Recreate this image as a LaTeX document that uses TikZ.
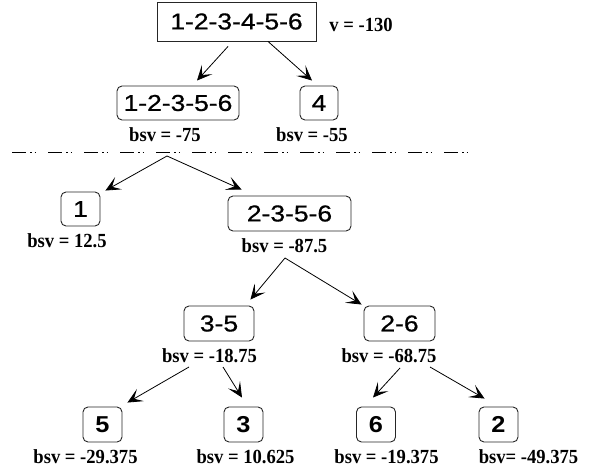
\documentclass[tikz,border=0pt]{standalone}
\usepackage{fontspec}
\usetikzlibrary{arrows.meta,calc}
\newfontfamily\boxfont[FakeStretch=1.15,FakeBold=0.7]{Liberation Sans}
\newfontfamily\leaffont[FakeStretch=1.1]{Liberation Sans Bold}
\newfontfamily\lblfont[FakeStretch=0.93]{Liberation Serif Bold}

\begin{document}
\begin{tikzpicture}[x=1pt,y=-1pt,
  box/.style={draw=black!85, line width=0.9pt, inner sep=0pt,
    font=\boxfont\fontsize{23}{23}\selectfont},
  rbox/.style={box, rounded corners=5pt},
  leaf/.style={rbox, minimum width=39pt, minimum height=35pt,
    font=\leaffont\fontsize{23}{23}\selectfont},
  lbl/.style={anchor=base, inner sep=0pt,
    font=\lblfont\fontsize{20}{20}\selectfont},
  arr/.style={-{Stealth[length=15pt,width=14pt,inset=7.5pt]}, line width=0.8pt},
  cut/.style={line width=0.7pt,
    dash pattern=on 14pt off 4pt on 1.5pt off 3pt on 1.5pt off 12pt}]
\useasboundingbox (0,0) rectangle (596,473);

% upper level: full set and its first split
\node[box, minimum width=159pt, minimum height=39pt] (root) at (236.5,21.5) {1-2-3-4-5-6};
\node[lbl] (v) at (361,32) {v = -130};
\node[rbox, minimum width=122pt, minimum height=34pt] (A) at (178,103) {1-2-3-5-6};
\node[rbox, minimum width=38pt, minimum height=34pt] (B) at (319,103) {4};
\node[lbl] (lA) at (165,142) {bsv = -75};
\node[lbl] (lB) at (312,142) {bsv = -55};

% cut line
\coordinate (cutL) at (12,152);
\coordinate (cutR) at (477,152);
\coordinate (split) at (167,156);
\draw[cut] (cutL) -- (cutR);

% second level
\node[rbox, minimum width=39pt, minimum height=34pt] (n1) at (80.5,209) {1};
\node[lbl] (l1) at (67,247) {bsv = 12.5};
\node[rbox, minimum width=123pt, minimum height=35pt] (C) at (289.5,213.5) {2-3-5-6};
\node[lbl] (lC) at (284.5,252) {bsv = -87.5};

% third level
\node[rbox, minimum width=70pt, minimum height=35pt] (D) at (219,323.5) {3-5};
\node[lbl] (lD) at (209.5,362) {bsv = -18.75};
\node[rbox, minimum width=71pt, minimum height=35pt] (E) at (399.5,323.5) {2-6};
\node[lbl] (lE) at (389,362) {bsv = -68.75};

% leaves
\node[leaf] (n5) at (102.5,424.5) {5};
\node[leaf] (n3) at (243.5,424.5) {3};
\node[leaf] (n6) at (376,424.5) {6};
\node[leaf] (n2) at (498.5,424.5) {2};
\node[lbl] (l5) at (85.5,463) {bsv = -29.375};
\node[lbl] (l3) at (245.5,463) {bsv = 10.625};
\node[lbl] (l6) at (386.5,463) {bsv = -19.375};
\node[lbl] (l2) at (528.5,463) {bsv= -49.375};

% connectors
\draw[arr] ($(root.south)+(-8.5,5)$) -- ($(A.north)+(19,-5)$);
\draw[arr] ($(root.south)+(31.5,0)$) -- ($(B.north)+(-7,-5)$);
\draw[arr] (split) -- ($(n1.north east)+(5,-1)$);
\draw[arr] (split) -- ($(C.north west)+(14,-6)$);
\draw[arr] ($(lC.base)+(0.5,6)$) -- ($(D.north east)+(-4,-6)$);
\draw[arr] ($(lC.base)+(0.5,6)$) -- ($(E.north west)+(-2,-1)$);
\draw[arr] ($(lD.base)+(-20.5,5)$) -- ($(n5.north east)+(5,-4)$);
\draw[arr] ($(lD.base)+(13.5,5)$) -- ($(n3.north)+(-1.5,-9)$);
\draw[arr] ($(lE.base)+(11,6)$) -- ($(n6.north)+(-3,-9)$);
\draw[arr] ($(lE.base)+(41,5)$) -- ($(n2.north west)+(6,-8)$);
\end{tikzpicture}
\end{document}
